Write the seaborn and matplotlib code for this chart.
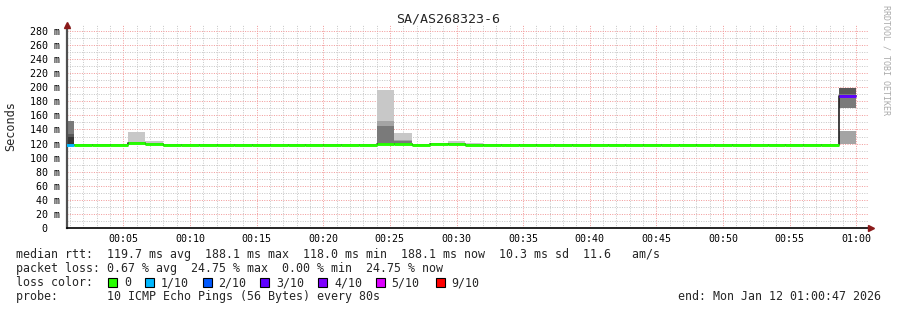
import numpy as np
import pandas as pd
import matplotlib
matplotlib.use("Agg")
import matplotlib.pyplot as plt
from matplotlib.patches import Rectangle
from matplotlib.ticker import MultipleLocator
import seaborn as sns

# ---------------- data ----------------
TITLE = "SA/AS268323-6"
STEP_S = 80  # seconds per consolidated bin

# median rtt per 80 s bin (ms), bins start at 00:00:00
median_ms = [118.0, 118.0, 118.0, 118.0, 120.8, 119.3, 118.0, 118.0, 118.0, 118.0,
             118.0, 118.0, 118.0, 118.0, 118.0, 118.0, 118.0, 118.0, 119.0, 118.8,
             118.0, 119.6, 119.0, 118.5, 118.0, 118.0, 118.0, 118.0, 118.0, 118.0,
             118.0, 118.0, 118.0, 118.0, 118.0, 118.0, 118.0, 118.0, 118.0, 118.0,
             118.0, 118.0, 118.0, 118.0, 188.1]
# packet loss per bin (%)
loss_pct = [5.4, 0, 0, 0, 0, 0, 0, 0, 0, 0,
            0, 0, 0, 0, 0, 0, 0, 0, 0, 0,
            0, 0, 0, 0, 0, 0, 0, 0, 0, 0,
            0, 0, 0, 0, 0, 0, 0, 0, 0, 0,
            0, 0, 0, 0, 24.75]

# smoke layers (bin index, low ms, high ms, smoke level 1=outer .. 5=inner)
smoke_bin = [0, 0, 0, 4, 5, 5, 18, 18, 18, 19, 19, 19, 21, 22, 22, 23, 23, 44, 44, 44]
smoke_lo = [118, 118, 118, 118, 118, 118, 118, 118, 118, 118, 118, 118, 118, 118, 118, 118, 118, 119, 171, 190]
smoke_hi = [152.5, 133.6, 130.0, 137.0, 124.0, 121.0, 196.6, 152.5, 145.4, 135.5, 125.5, 124.0,
            121.0, 123.0, 121.0, 121.0, 120.0, 138.3, 199.4, 199.4]
smoke_level = [3, 4, 5, 1, 1, 2, 1, 2, 3, 1, 2, 3, 1, 1, 2, 1, 3, 2, 3, 4]

y_ticks_ms = [0, 20, 40, 60, 80, 100, 120, 140, 160, 180, 200, 220, 240, 260, 280]
y_tick_labels = ["0\u2007\u2007", "20 m", "40 m", "60 m", "80 m", "100 m", "120 m", "140 m", "160 m",
                 "180 m", "200 m", "220 m", "240 m", "260 m", "280 m"]
x_ticks_min = [5, 10, 15, 20, 25, 30, 35, 40, 45, 50, 55, 60]
x_tick_labels = ["00:05", "00:10", "00:15", "00:20", "00:25", "00:30", "00:35", "00:40",
                 "00:45", "00:50", "00:55", "01:00"]
x_start_min = 0.78   # 00:00:47
x_end_min = 60.87

loss_thresholds = [0, 1, 2, 3, 4, 5, 9]
loss_labels = ["0", "1/10", "2/10", "3/10", "4/10", "5/10", "9/10"]
loss_colors = ["#26ff00", "#00b8ff", "#0059ff", "#5e00ff", "#7e00ff", "#dd00ff", "#ff0000"]

stat_lines = [
    "median rtt:  119.7 ms avg  188.1 ms max  118.0 ms min  188.1 ms now  10.3 ms sd  11.6   am/s",
    "packet loss: 0.67 % avg  24.75 % max  0.00 % min  24.75 % now",
    "loss color:",
    "probe:       10 ICMP Echo Pings (56 Bytes) every 80s",
]
end_text = "end: Mon Jan 12 01:00:47 2026"
credit = "RRDTOOL / TOBI OETIKER"

# ---------------- style ----------------
sns.set_theme(style="white")
MONO = ["DejaVu Sans Mono", "DejaVu Sans"]
plt.rcParams["font.family"] = MONO

W, H = 897, 310
fig = plt.figure(figsize=(W / 100, H / 100), dpi=100)
fig.patch.set_facecolor("white")
ax = fig.add_axes([67 / W, 82 / H, (868 - 67) / W, (228 - 25) / H])
ax.set_facecolor("white")

shade = {1: "#c8c8c8", 2: "#a4a4a4", 3: "#7a7a7a", 4: "#585858", 5: "#363636"}
step_min = STEP_S / 60.0

# smoke
for b, lo, hi, lv in zip(smoke_bin, smoke_lo, smoke_hi, smoke_level):
    ax.bar(b * step_min, hi - lo, bottom=lo, width=step_min, align="edge",
           color=shade[lv], linewidth=0, zorder=2)

# median black step line
t_left = np.arange(len(median_ms)) * step_min
df = pd.DataFrame({"t": np.append(t_left, len(median_ms) * step_min),
                   "median": median_ms + [median_ms[-1]]})
sns.lineplot(data=df, x="t", y="median", drawstyle="steps-post", color="#202020",
             linewidth=1.2, ax=ax, zorder=3)


def loss_color(p):
    x = p / 10.0
    for thr, c in zip(loss_thresholds, loss_colors):
        if x <= thr:
            return c
    return loss_colors[-1]


seg_colors = [loss_color(p) for p in loss_pct]
ax.hlines(median_ms, t_left, t_left + step_min, colors=seg_colors, linewidth=2.1, zorder=4)

ax.set_xlim(x_start_min, x_end_min)
ax.set_ylim(0, 288.5)
ax.set_xlabel("")
ax.set_ylabel("")

ax.set_xticks(x_ticks_min)
ax.set_xticklabels(x_tick_labels)
ax.set_yticks(y_ticks_ms)
ax.set_yticklabels(y_tick_labels)
ax.xaxis.set_minor_locator(MultipleLocator(1))
ax.yaxis.set_minor_locator(MultipleLocator(10))
ax.tick_params(axis="both", which="both", length=0, labelsize=7.2, colors="black")
ax.tick_params(axis="x", pad=4.5)
ax.tick_params(axis="y", pad=5)

ax.set_axisbelow(True)
ax.grid(which="minor", color="#c8c8c8", linestyle=(0, (1, 1.4)), linewidth=0.72)
ax.grid(which="major", color="#f29c9c", linestyle=(0, (1, 1.4)), linewidth=0.72)

for s in ("top", "right"):
    ax.spines[s].set_visible(False)
ax.spines["left"].set_color("#505050")
ax.spines["left"].set_linewidth(1.6)
ax.spines["bottom"].set_color("black")
ax.spines["bottom"].set_linewidth(1.2)

ax.plot([0], [1.0], marker="^", color="#8b1a1a", markersize=5, transform=ax.transAxes,
        clip_on=False, zorder=6)
ax.plot([1.004], [0], marker=">", color="#8b1a1a", markersize=5, transform=ax.transAxes,
        clip_on=False, zorder=6)

# texts
fig.text(448 / W, 1 - 19 / H, TITLE, ha="center", va="center", fontsize=9.6)
fig.text(11 / W, 1 - 126 / H, "Seconds", rotation=90, ha="center", va="center", fontsize=8.6)
fig.text(886 / W, 1 - 60 / H, credit, rotation=270, ha="center", va="center",
         fontsize=6.0, color="#aaaaaa")

row_y = [254.5, 268.5, 282.5, 296.5]
for txt, yy in zip(stat_lines, row_y):
    fig.text(16 / W, 1 - yy / H, txt, ha="left", va="center", fontsize=8.4)
fig.text(881 / W, 1 - 296.5 / H, end_text, ha="right", va="center", fontsize=8.4)

sq_x = [108.3, 145.3, 202.7, 260.3, 318.3, 375.7, 436.0]
for x0, c, lab in zip(sq_x, loss_colors, loss_labels):
    fig.add_artist(Rectangle((x0 / W, (H - 286.5) / H), 9 / W, 9 / H, transform=fig.transFigure,
                             facecolor=c, edgecolor="black", linewidth=0.8))
    fig.text((x0 + 15.7) / W, 1 - 282.5 / H, lab, ha="left", va="center", fontsize=8.4)

fig.savefig("out.png", dpi=100, facecolor="white")
